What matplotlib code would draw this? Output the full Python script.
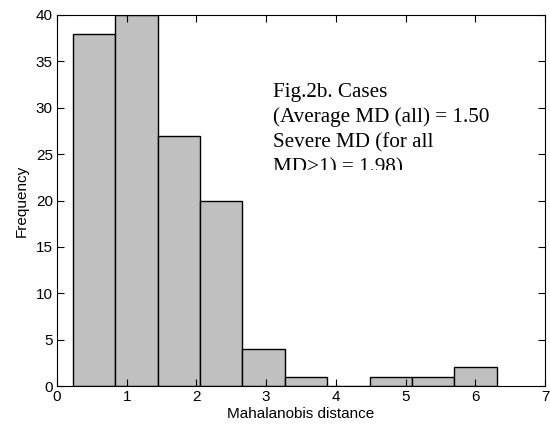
import matplotlib
matplotlib.use("Agg")
import matplotlib.pyplot as plt
from matplotlib.patches import Rectangle
from matplotlib import font_manager

bin_edges = [0.228, 0.836, 1.444, 2.052, 2.660, 3.268, 3.876, 4.484, 5.092, 5.700, 6.308]
counts = [38, 40, 27, 20, 4, 1, 0, 1, 1, 2]
xticks = [0, 1, 2, 3, 4, 5, 6, 7]
yticks = [0, 5, 10, 15, 20, 25, 30, 35, 40]
annot_lines = ["Fig.2b. Cases", "(Average MD (all) = 1.50", "Severe MD (for all", "MD>1) = 1.98)"]

names = {f.name for f in font_manager.fontManager.ttflist}
sans = "DejaVu Sans"
for cand in ["Liberation Sans Narrow", "Liberation Sans"]:
    if cand in names:
        sans = cand
        break

W, H = 550, 430
fig = plt.figure(figsize=(5.5, 4.3), dpi=100)
ax = fig.add_axes([57/W, 1-386/H, 488/W, 371/H])

ax.hist(bin_edges[:-1], bins=bin_edges, weights=counts, color="#c0c0c0",
        edgecolor="black", linewidth=1.0)
ax.set_xlim(0, 7)
ax.set_ylim(0, 40)
ax.set_xticks(xticks)
ax.set_yticks(yticks)
ax.tick_params(direction="in", top=True, right=True, length=5, width=0.8,
               labelsize=11, pad=3)
for lab in ax.get_xticklabels() + ax.get_yticklabels():
    lab.set_fontfamily(sans)
for s in ax.spines.values():
    s.set_linewidth(0.8)

ax.set_xlabel("Mahalanobis distance", fontfamily=sans, fontsize=11, labelpad=2)
ax.set_ylabel("Frequency", fontfamily=sans, fontsize=11, labelpad=5)

# clip region: annotation is cut off just above y=170 px (as in the reference)
clip = Rectangle((0, 1-170/H), 1, 1, transform=fig.transFigure, visible=False)
fig.add_artist(clip)
baselines = [97, 122, 147, 172]
for line, yb in zip(annot_lines, baselines):
    t = fig.text(273/W, 1-yb/H, line, fontfamily="Liberation Serif",
                 fontsize=15.2, va="baseline", ha="left")
    t.set_clip_path(clip)

fig.savefig("out.png", dpi=100)
